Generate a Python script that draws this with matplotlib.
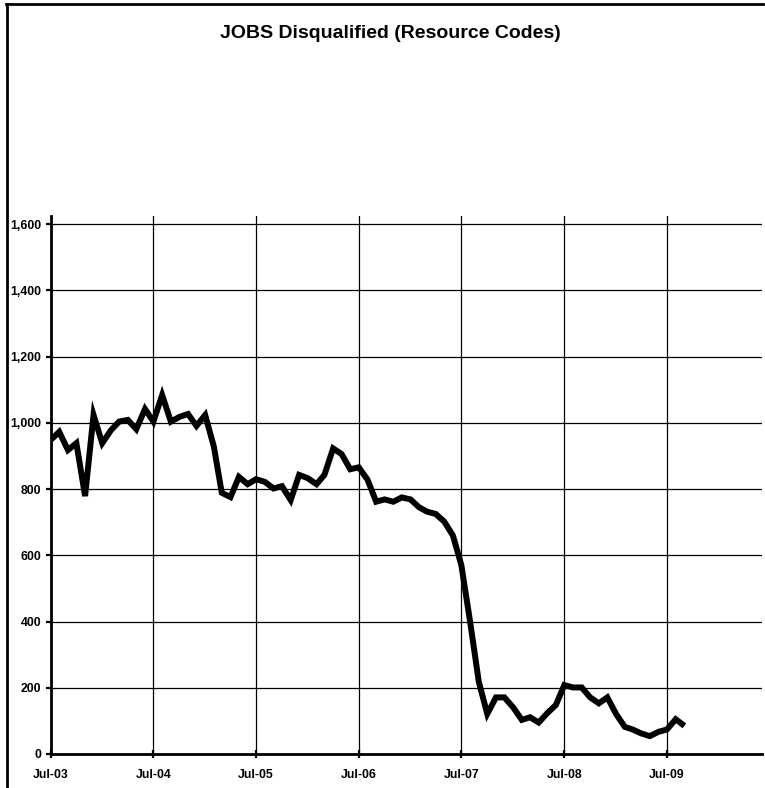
import numpy as np
import pandas as pd
import matplotlib
matplotlib.use("Agg")
import matplotlib.pyplot as plt
import matplotlib.dates as mdates
from matplotlib.lines import Line2D
from matplotlib.ticker import FuncFormatter

# ─────────────────────────────────────────────
# Data (monthly counts, Jul-03 .. Sep-09)
# ─────────────────────────────────────────────
START_MONTH = "2003-07-01"
disqualified = [
    948, 973, 918, 939, 779, 1024, 939, 978, 1004, 1009, 981, 1042,
    1004, 1084, 1004, 1018, 1027, 991, 1024, 928, 789, 776, 837, 815,
    830, 822, 802, 809, 767, 843, 833, 815, 843, 923, 906, 860,
    866, 829, 762, 769, 762, 775, 769, 745, 732, 725, 702, 660,
    570, 400, 218, 121, 171, 171, 141, 103, 111, 95, 123, 148,
    208, 201, 201, 171, 153, 171, 121, 82, 74, 62, 54, 67,
    74, 105, 85,
]
y_ticks = [0, 200, 400, 600, 800, 1000, 1200, 1400, 1600]
title = "JOBS Disqualified (Resource Codes)"

months = pd.date_range(START_MONTH, periods=len(disqualified), freq="MS")

plt.rcParams["font.family"] = ["Liberation Sans", "DejaVu Sans"]

fig = plt.figure(figsize=(7.65, 7.88), dpi=100)
ax = fig.add_axes([50.5 / 765, 1 - 754 / 788, (762 - 50.5) / 765, (754 - 216) / 788])

ax.plot(months, disqualified, color="black", lw=4.3,
        solid_joinstyle="miter", solid_capstyle="butt")

# axes range
ax.set_xlim(pd.Timestamp("2003-07-01"), pd.Timestamp("2010-06-04"))
ax.set_ylim(0, 1625)

ax.xaxis.set_major_locator(mdates.MonthLocator(bymonth=7, bymonthday=1))
ax.xaxis.set_major_formatter(mdates.DateFormatter("%b-%y"))
ax.set_yticks(y_ticks)
ax.yaxis.set_major_formatter(FuncFormatter(lambda v, p: f"{int(v):,}"))

ax.grid(True, color="black", lw=0.9)
ax.set_axisbelow(True)

for s in ["top", "right"]:
    ax.spines[s].set_visible(False)
for s in ["left", "bottom"]:
    ax.spines[s].set_linewidth(2.0)

ax.tick_params(axis="y", direction="out", length=3.5, width=1.6, pad=3,
               labelsize=8.8)
ax.tick_params(axis="x", direction="inout", length=6, width=1.6, pad=8,
               labelsize=8.8)
for lab in ax.get_xticklabels() + ax.get_yticklabels():
    lab.set_fontweight("bold")

fig.text(390 / 765, 1 - 33 / 788, title, ha="center", va="center",
         fontsize=14, fontweight="bold")

# frame round the chart (top and left edges visible)
fig.add_artist(Line2D([6 / 765, 763 / 765], [1 - 4 / 788, 1 - 4 / 788],
                      transform=fig.transFigure, color="black", lw=2.0))
fig.add_artist(Line2D([7 / 765, 7 / 765], [1 - 4 / 788, 0],
                      transform=fig.transFigure, color="black", lw=2.0))

fig.savefig("out.png", dpi=100)
